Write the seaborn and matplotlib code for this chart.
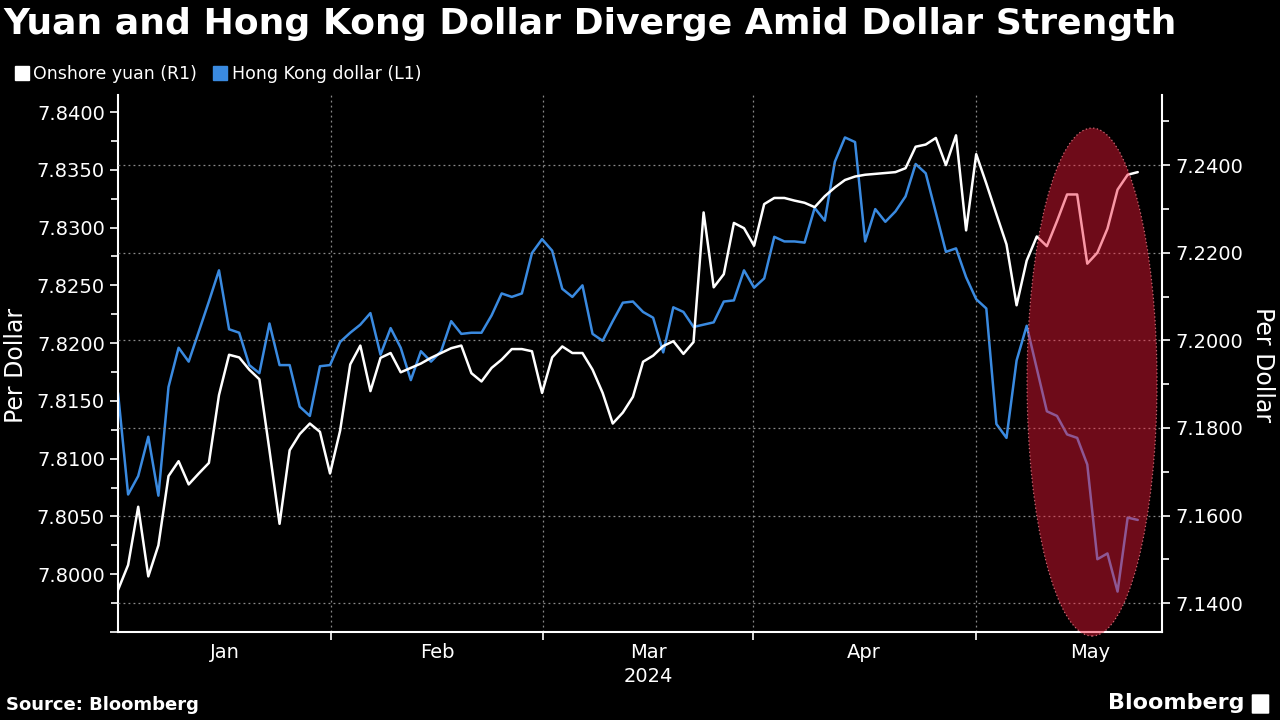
import numpy as np
import matplotlib
matplotlib.use('Agg')
import matplotlib.pyplot as plt
import matplotlib.ticker as mticker
from matplotlib.patches import Ellipse, FancyBboxPatch
from matplotlib.lines import Line2D
import seaborn as sns

# Hong Kong dollar per USD (left axis), one value per trading day
hkd = [7.8157, 7.8069, 7.8085, 7.8119, 7.8068, 7.8162, 7.8196, 7.8184, 7.8210, 7.8236,
       7.8263, 7.8212, 7.8209, 7.8181, 7.8174, 7.8217, 7.8181, 7.8181, 7.8145, 7.8137,
       7.8180, 7.8181, 7.8201, 7.8209, 7.8216, 7.8226, 7.8190, 7.8213, 7.8196, 7.8168,
       7.8193, 7.8184, 7.8193, 7.8219, 7.8208, 7.8209, 7.8209, 7.8224, 7.8243, 7.8240,
       7.8243, 7.8278, 7.8290, 7.8280, 7.8247, 7.8240, 7.8250, 7.8208, 7.8202, 7.8219,
       7.8235, 7.8236, 7.8227, 7.8222, 7.8192, 7.8231, 7.8227, 7.8214, 7.8216, 7.8218,
       7.8236, 7.8237, 7.8263, 7.8248, 7.8256, 7.8292, 7.8288, 7.8288, 7.8287, 7.8317,
       7.8306, 7.8357, 7.8378, 7.8374, 7.8288, 7.8316, 7.8305, 7.8314, 7.8327, 7.8355,
       7.8347, 7.8313, 7.8279, 7.8282, 7.8257, 7.8238, 7.8230, 7.8130, 7.8118, 7.8185,
       7.8215, 7.8178, 7.8141, 7.8137, 7.8121, 7.8118, 7.8095, 7.8013, 7.8018, 7.7985,
       7.8049, 7.8047]

# onshore yuan per USD (right axis)
cny = [7.1430, 7.1487, 7.1620, 7.1461, 7.1532, 7.1690, 7.1724, 7.1671, 7.1696, 7.1720,
       7.1875, 7.1967, 7.1961, 7.1933, 7.1911, 7.1749, 7.1581, 7.1749, 7.1786, 7.1810,
       7.1791, 7.1696, 7.1794, 7.1945, 7.1988, 7.1884, 7.1960, 7.1971, 7.1927, 7.1937,
       7.1947, 7.1960, 7.1971, 7.1982, 7.1988, 7.1925, 7.1906, 7.1937, 7.1956, 7.1980,
       7.1980, 7.1975, 7.1880, 7.1961, 7.1986, 7.1971, 7.1971, 7.1933, 7.1880, 7.1810,
       7.1835, 7.1871, 7.1951, 7.1965, 7.1987, 7.1998, 7.1969, 7.1996, 7.2292, 7.2121,
       7.2151, 7.2268, 7.2256, 7.2216, 7.2311, 7.2325, 7.2325, 7.2319, 7.2314, 7.2304,
       7.2329, 7.2349, 7.2366, 7.2374, 7.2378, 7.2380, 7.2382, 7.2384, 7.2393, 7.2442,
       7.2447, 7.2462, 7.2400, 7.2468, 7.2251, 7.2425, 7.2358, 7.2288, 7.2219, 7.2080,
       7.2182, 7.2237, 7.2215, 7.2272, 7.2333, 7.2333, 7.2175, 7.2200, 7.2255, 7.2344,
       7.2378, 7.2384]

months = ['Jan', 'Feb', 'Mar', 'Apr', 'May']
month_starts = [21.1, 42.1, 62.9, 84.95]     # trading-day index where a new month begins
month_mid = [10.6, 31.6, 52.5, 73.9, 96.3]   # where the month names sit

BLUE = '#3a8ae0'
GRID = '#8a8a8a'

sns.set_theme(style='dark', rc={'axes.facecolor': 'black', 'figure.facecolor': 'black',
                                'text.color': 'white', 'axes.edgecolor': 'white'})
plt.rcParams['font.family'] = ['DejaVu Sans']

x = np.arange(len(hkd))

fig = plt.figure(figsize=(12.8, 7.2), dpi=100)
ax = fig.add_axes([0.0922, 0.1222, 0.8156, 0.7458])
ax2 = ax.twinx()

sns.lineplot(x=x, y=hkd, ax=ax, color=BLUE, linewidth=1.8)
sns.lineplot(x=x, y=cny, ax=ax2, color='white', linewidth=1.8)

ax.set_xlim(0, 103.4)
ax.set_ylim(7.7950, 7.84147)
ax2.set_ylim(7.1334, 7.2560)


def left_fmt(v, pos):
    # the bottom tick of the left axis carries no label
    return '' if v < 7.79995 else f'{v:.4f}'


# left axis
ax.yaxis.set_major_locator(mticker.MultipleLocator(0.005))
ax.yaxis.set_minor_locator(mticker.MultipleLocator(0.0025))
ax.yaxis.set_major_formatter(mticker.FuncFormatter(left_fmt))
ax.tick_params(axis='y', which='both', colors='white', labelsize=14, direction='out', left=True)
ax.tick_params(axis='y', which='major', length=6, width=1.2)
ax.tick_params(axis='y', which='minor', length=5, width=1.2)

# right axis
ax2.yaxis.set_major_locator(mticker.MultipleLocator(0.02))
ax2.yaxis.set_minor_locator(mticker.MultipleLocator(0.01))
ax2.yaxis.set_major_formatter(mticker.FormatStrFormatter('%.4f'))
ax2.tick_params(axis='y', which='both', colors='white', labelsize=14, direction='out', right=True)
ax2.tick_params(axis='y', which='major', length=6, width=1.2)
ax2.tick_params(axis='y', which='minor', length=5, width=1.2)

# x axis: ticks at month boundaries, names centred on months
ax.set_xticks(month_starts)
ax.set_xticklabels([''] * len(month_starts))
ax.set_xticks(month_mid, minor=True)
ax.set_xticklabels(months, minor=True)
ax.tick_params(axis='x', which='major', colors='white', length=6, width=1.2, direction='out', bottom=True)
ax.tick_params(axis='x', which='minor', colors='white', length=0, labelsize=14, pad=8)

ax.grid(False)
ax2.grid(False)
ax.grid(axis='x', which='major', linestyle=(0, (1.5, 2.5)), color=GRID, linewidth=0.9)
ax2.grid(axis='y', which='major', linestyle=(0, (1.5, 2.5)), color=GRID, linewidth=0.9)
ax.set_ylabel('')
ax2.set_ylabel('')

for a in (ax, ax2):
    for s in a.spines.values():
        s.set_visible(False)
ax.spines['left'].set_visible(True)
ax.spines['bottom'].set_visible(True)
ax2.spines['right'].set_visible(True)
for s in (ax.spines['left'], ax.spines['bottom'], ax2.spines['right']):
    s.set_color('white')
    s.set_linewidth(1.5)

# red highlight ellipse over May
ell = Ellipse((0.933, 0.4655), 0.1245, 0.946, transform=ax2.transAxes,
              facecolor=(0.96, 0.10, 0.22, 0.45), edgecolor=(1.0, 0.55, 0.6, 0.75),
              linestyle=(0, (1, 2)), linewidth=0.9, zorder=10, clip_on=False)
ax2.add_patch(ell)

# texts
fig.text(0.003, 0.99, 'Yuan and Hong Kong Dollar Diverge Amid Dollar Strength',
         fontsize=26, fontweight='bold', color='white', va='top', ha='left')
handles = [Line2D([], [], marker='s', linestyle='', markersize=10, color='white'),
           Line2D([], [], marker='s', linestyle='', markersize=10, color=BLUE)]
fig.legend(handles, ['Onshore yuan (R1)', 'Hong Kong dollar (L1)'], loc='center left',
           bbox_to_anchor=(0.0, 0.897), ncol=2, frameon=False, fontsize=12.5,
           handlelength=0.7, handletextpad=0.3, columnspacing=1.0, labelcolor='white')

fig.text(16 / 1280, 1 - 365 / 720, 'Per Dollar', rotation=90, fontsize=17,
         color='white', ha='center', va='center')
fig.text(1263 / 1280, 1 - 365 / 720, 'Per Dollar', rotation=270, fontsize=17,
         color='white', ha='center', va='center')
fig.text(648 / 1280, 1 - 677 / 720, '2024', fontsize=14, color='white', ha='center', va='center')

fig.text(6 / 1280, 1 - 705 / 720, 'Source: Bloomberg', fontsize=13, fontweight='bold',
         color='white', ha='left', va='center')
fig.text(1245 / 1280, 1 - 703 / 720, 'Bloomberg', fontsize=16, fontweight='bold',
         color='white', ha='right', va='center')
fig.patches.append(FancyBboxPatch((1253 / 1280, 1 - 713 / 720), 15 / 1280, 18 / 720,
                                  boxstyle='round,pad=0.001', transform=fig.transFigure,
                                  facecolor='white', edgecolor='none'))

fig.savefig('out.png', dpi=100, facecolor='black')
